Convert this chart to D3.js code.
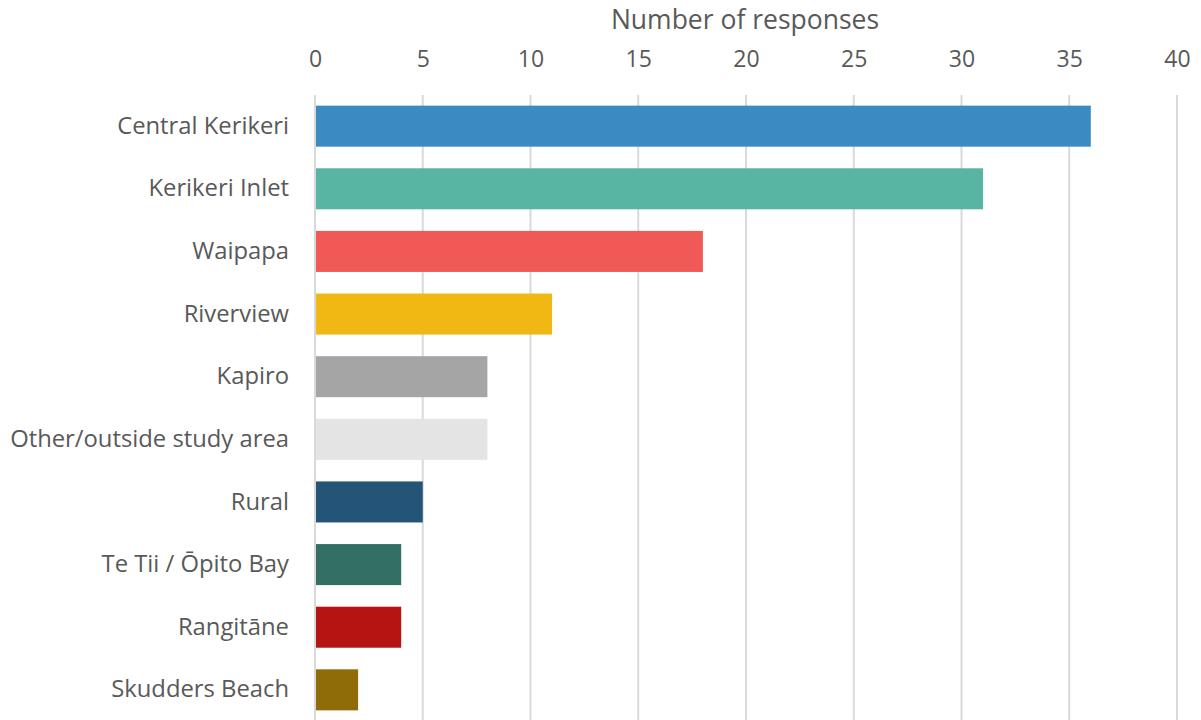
<!DOCTYPE html>
<html><head><meta charset="utf-8">
<script src="https://cdn.jsdelivr.net/npm/d3@7"></script>
<style>body{margin:0;background:#fff}svg{display:block}</style>
</head><body><svg id="c" width="1201" height="720"></svg>
<script>
const categories = ["Central Kerikeri","Kerikeri Inlet","Waipapa","Riverview","Kapiro","Other/outside study area","Rural","Te Tii / Ōpito Bay","Rangitāne","Skudders Beach"];
const values = [36,31,18,11,8,8,5,4,4,2];
const colors = ["#3b8bc2","#58b5a3","#f05955","#f1b712","#a5a5a5","#e4e4e4","#245476","#336f62","#b51412","#8f6c07"];
const tickValues = [0,5,10,15,20,25,30,35,40];
const axisTitle = "Number of responses";

const svg = d3.select("#c");
const font = "'Open Sans', sans-serif";
const x = d3.scaleLinear().domain([0,40]).range([315,1177]);
const y = d3.scaleBand().domain(categories).range([95,721]).paddingInner(0.345).paddingOuter(0.17);

// gridlines
svg.append("g").selectAll("line").data(tickValues).join("line")
  .attr("x1",d=>x(d)).attr("x2",d=>x(d)).attr("y1",95).attr("y2",720)
  .attr("stroke","#d9d9d9").attr("stroke-width",2);

// bars
svg.append("g").selectAll("rect").data(categories).join("rect")
  .attr("x",x(0)+1).attr("y",d=>y(d))
  .attr("width",(d,i)=>x(values[i])-x(0)-1).attr("height",y.bandwidth())
  .attr("fill",(d,i)=>colors[i]);

// top axis labels
const ax = svg.append("g").attr("transform","translate(0,67)")
  .call(d3.axisTop(x).tickValues(tickValues).tickSize(0).tickPadding(0));
ax.select(".domain").remove();
ax.selectAll("text").attr("font-family",font).attr("font-size",23).attr("fill","#595959");

// category labels
const ay = svg.append("g").attr("transform","translate(289,0)")
  .call(d3.axisLeft(y).tickSize(0).tickPadding(0));
ay.select(".domain").remove();
ay.selectAll("text").attr("font-family",font).attr("font-size",23.8).attr("fill","#595959");

svg.append("text").attr("x",745).attr("y",29).attr("text-anchor","middle")
  .attr("font-family",font).attr("font-size",26.5).attr("fill","#595959").text(axisTitle);
</script></body></html>
